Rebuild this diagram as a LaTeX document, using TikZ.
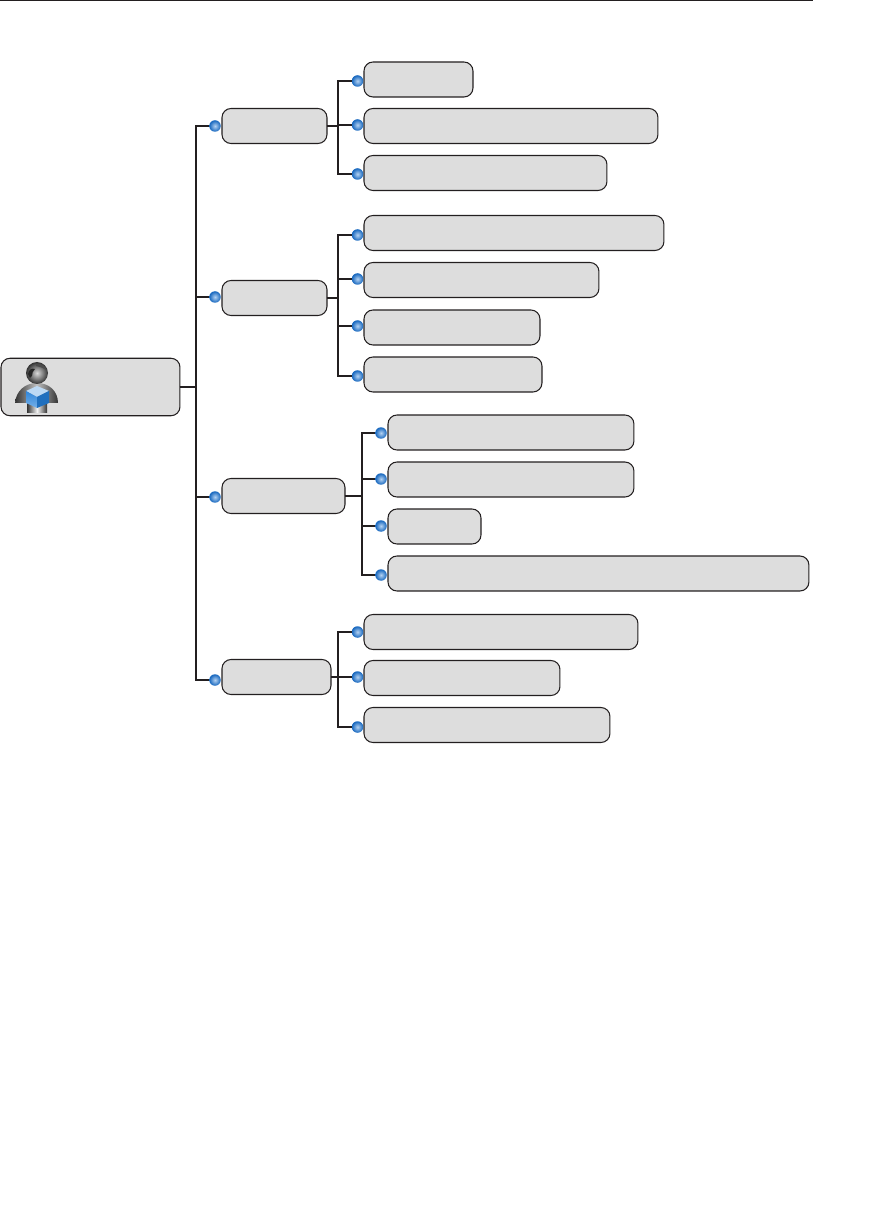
\documentclass[tikz,border=0pt]{standalone}
\usetikzlibrary{positioning, calc}
\definecolor{boxF}{HTML}{DDDDDD}
\definecolor{boxS}{HTML}{231F20}
\definecolor{bulletIn}{HTML}{B4D2F2}
\definecolor{bulletOut}{HTML}{1566BE}
\definecolor{cubeTop}{HTML}{BCD9F4}
\definecolor{cubeLeft}{HTML}{2F86DA}
\definecolor{cubeRight}{HTML}{1F6FBE}
\tikzset{
  box/.style={rounded corners=0.18cm, draw=boxS, fill=boxF, line width=0.6pt,
    minimum height=0.7cm, anchor=west, inner sep=0pt, outer sep=0pt},
  bullet/.style={circle, inner sep=0pt, outer sep=0pt, minimum size=0.23cm,
    inner color=bulletIn, outer color=bulletOut},
  wire/.style={draw=boxS, line width=1.4pt},
}
\begin{document}
\begin{tikzpicture}[x=0.02cm, y=-0.02cm]
  \useasboundingbox (0,0) rectangle (885,1212);
  \draw[boxS, line width=1pt] (0,0.5) -- (813,0.5);

  % ---- Root box -------------------------------------------------------------
  \node[box, minimum width=3.58cm, minimum height=1.15cm] (root) at (1,387) {};

  % ---- Second level ---------------------------------------------------------
  \node[box, minimum width=2.10cm] (grpA) at (222,126) {};
  \node[box, minimum width=2.10cm] (grpB) at (222,298) {};
  \node[box, minimum width=2.46cm] (grpC) at (222,496) {};
  \node[box, minimum width=2.18cm] (grpD) at (222,677) {};
  \node[bullet] (dotA) at (215,126) {};
  \node[bullet] (dotB) at (215,297) {};
  \node[bullet] (dotC) at (215,497) {};
  \node[bullet] (dotD) at (215,680) {};

  % ---- First group ----------------------------------------------------------
  \node[box, minimum width=2.18cm] (itemA1) at (364,79.5) {};
  \node[box, minimum width=5.88cm] (itemA2) at (364,126) {};
  \node[box, minimum width=4.86cm] (itemA3) at (364,173) {};
  \node[bullet] (dotA1) at (357.5,81) {};
  \node[bullet] (dotA2) at (357.5,125) {};
  \node[bullet] (dotA3) at (357.5,174) {};

  % ---- Second group ---------------------------------------------------------
  \node[box, minimum width=6.00cm] (itemB1) at (364,233) {};
  \node[box, minimum width=4.70cm] (itemB2) at (364,280) {};
  \node[box, minimum width=3.52cm] (itemB3) at (364,327.5) {};
  \node[box, minimum width=3.56cm] (itemB4) at (364,374.5) {};
  \node[bullet] (dotB1) at (357.5,235) {};
  \node[bullet] (dotB2) at (357.5,279) {};
  \node[bullet] (dotB3) at (357.5,326) {};
  \node[bullet] (dotB4) at (357.5,376) {};

  % ---- Third group ----------------------------------------------------------
  \node[box, minimum width=4.92cm] (itemC1) at (388,432.5) {};
  \node[box, minimum width=4.92cm] (itemC2) at (388,479.5) {};
  \node[box, minimum width=1.86cm] (itemC3) at (388,526.5) {};
  \node[box, minimum width=8.42cm] (itemC4) at (388,573.5) {};
  \node[bullet] (dotC1) at (381,433) {};
  \node[bullet] (dotC2) at (381,479) {};
  \node[bullet] (dotC3) at (381,526) {};
  \node[bullet] (dotC4) at (381,575) {};

  % ---- Fourth group ---------------------------------------------------------
  \node[box, minimum width=5.48cm] (itemD1) at (364,632) {};
  \node[box, minimum width=3.92cm] (itemD2) at (364,678) {};
  \node[box, minimum width=4.92cm] (itemD3) at (364,725) {};
  \node[bullet] (dotD1) at (357.5,632) {};
  \node[bullet] (dotD2) at (357.5,677) {};
  \node[bullet] (dotD3) at (357.5,727) {};

  % ---- Connectors -----------------------------------------------------------
  \foreach \dot in {dotA,dotB,dotC,dotD}
    \draw[wire] (root.east) -- ++(16,0) |- (\dot.west);
  \foreach \dot in {dotA1,dotA2,dotA3}
    \draw[wire] (grpA.east) -- ++(11,0) |- (\dot.west);
  \foreach \dot in {dotB1,dotB2,dotB3,dotB4}
    \draw[wire] (grpB.east) -- ++(11,0) |- (\dot.west);
  \foreach \dot in {dotC1,dotC2,dotC3,dotC4}
    \draw[wire] (grpC.east) -- ++(17,0) |- (\dot.west);
  \foreach \dot in {dotD1,dotD2,dotD3}
    \draw[wire] (grpD.east) -- ++(7,0) |- (\dot.west);

  % ---- Person icon ----------------------------------------------------------
  \shade[left color=black!80, right color=black!80, middle color=black!5]
    (27,402) rectangle (47,413);
  \shade[left color=black!80, right color=black!80, middle color=black!25]
    (15,403) .. controls (16,391) and (25,383) .. (37,383)
    .. controls (49,383) and (58,391) .. (58,403) -- cycle;
  \shade[inner color=black!15, outer color=black!80] (37,373) circle (11);
  \fill[black!85] (28,374) .. controls (29,369) and (32,368) .. (35,369)
    .. controls (33,371) and (32,373) .. (32,376) -- (30,378) -- cycle;
  \fill[black!70] (36,364) .. controls (39,363) and (43,365) .. (46,370)
    .. controls (42,367) and (39,367) .. (36,366) -- cycle;
  \fill[cubeTop] (37,386) -- (49,391) -- (37,397) -- (26,391) -- cycle;
  \shade[top color=cubeLeft, bottom color=cubeTop!50!cubeLeft]
    (26,391) -- (37,397) -- (37,408) -- (26,403) -- cycle;
  \fill[cubeRight] (49,391) -- (37,397) -- (37,408) -- (49,403) -- cycle;
\end{tikzpicture}
\end{document}
